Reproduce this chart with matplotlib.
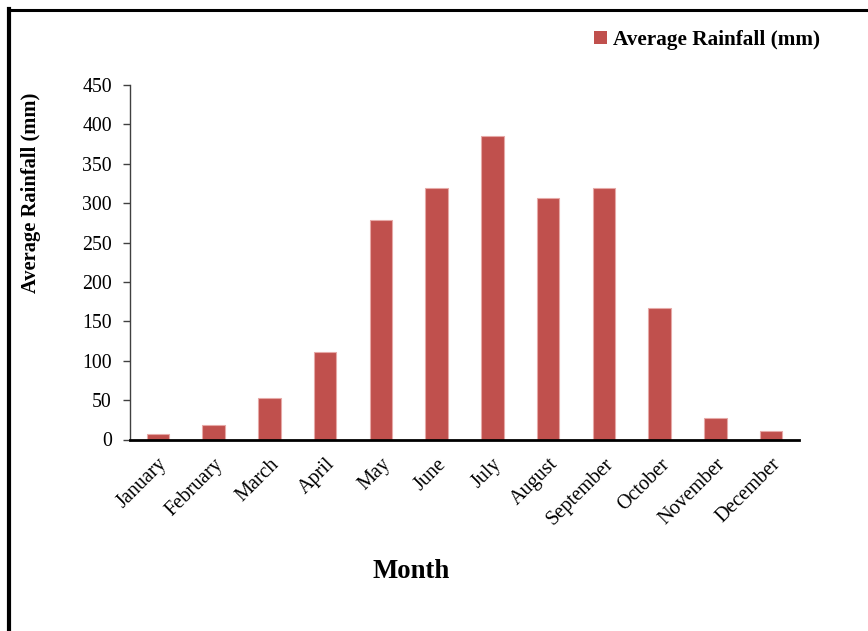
import matplotlib
matplotlib.use("Agg")
import matplotlib.pyplot as plt
from matplotlib.lines import Line2D
from matplotlib.patches import Patch

months = ["January", "February", "March", "April", "May", "June", "July",
          "August", "September", "October", "November", "December"]
rainfall = [6.5, 18.5, 53, 111, 278, 319, 385, 306, 319, 167, 27, 10.5]
yticks = [0, 50, 100, 150, 200, 250, 300, 350, 400, 450]

plt.rcParams['font.family'] = ['Liberation Serif', 'DejaVu Serif']

W, H = 868, 631
fig = plt.figure(figsize=(W / 100, H / 100), dpi=100)
ax = fig.add_axes([130 / W, 1 - 439.5 / H, (799 - 130) / W, (439.5 - 85) / H])

x = list(range(len(months)))
ax.bar(x, rainfall, width=0.4, color="#C0504D", edgecolor="#E6A9A7",
       linewidth=0.8, label="Average Rainfall (mm)", zorder=2)

ax.set_xlim(-0.5, len(months) - 0.5)
ax.set_ylim(0, 450)
ax.set_yticks(yticks)
ax.set_yticklabels([str(v) for v in yticks], fontsize=14.3)
ax.set_xticks(x)
ax.set_xticklabels(months, rotation=45, ha="right", rotation_mode="anchor",
                   fontsize=14.5)
ax.tick_params(axis="x", length=0, pad=11)
ax.tick_params(axis="y", length=5, width=1, color="#404040", pad=8)

for s in ["top", "right"]:
    ax.spines[s].set_visible(False)
ax.spines["left"].set_color("#404040")
ax.spines["left"].set_linewidth(1)
ax.spines["bottom"].set_color("black")
ax.spines["bottom"].set_linewidth(2)

fig.text(31 / W, 1 - 193 / H, "Average Rainfall (mm)", rotation=90,
         fontsize=14.8, fontweight="bold", ha="center", va="center")

fig.text(411 / W, 1 - 571 / H, "Month", fontsize=19.3, fontweight="bold",
         ha="center", va="center")

fig.legend(handles=[Patch(facecolor="#C0504D", edgecolor="none",
                          label="Average Rainfall (mm)")],
           loc="center left", bbox_to_anchor=(594 / W, 1 - 40 / H),
           frameon=False, prop={"weight": "bold", "size": 15.3},
           handlelength=0.6, handleheight=0.6, handletextpad=0.3,
           borderaxespad=0, borderpad=0)

# outer frame (cut off on right and bottom)
fig.add_artist(Line2D([9 / W, 9 / W], [0, 1 - 9 / H], color="black",
                      linewidth=3, transform=fig.transFigure,
                      solid_capstyle="projecting"))
fig.add_artist(Line2D([9 / W, 1.01], [1 - 10 / H, 1 - 10 / H], color="black",
                      linewidth=2.2, transform=fig.transFigure))

fig.savefig("out.png", dpi=100)
